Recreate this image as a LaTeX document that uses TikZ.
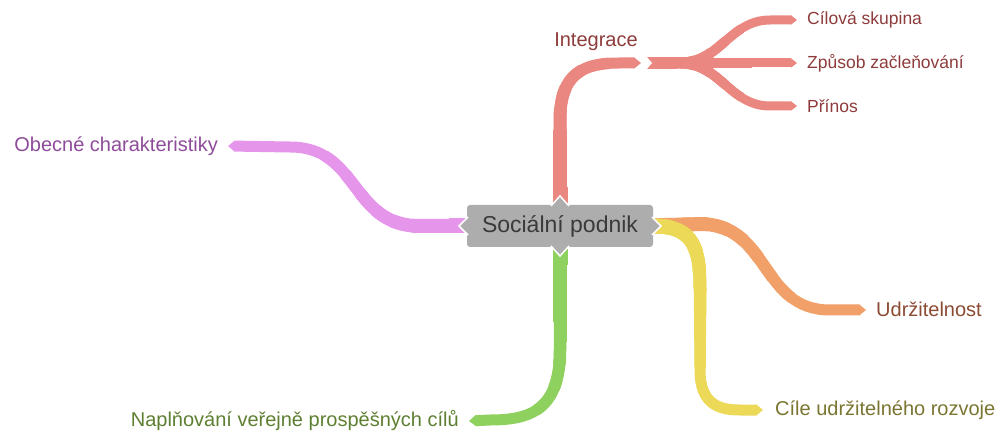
\documentclass[tikz,border=0pt]{standalone}
\usepackage{fontspec}
\setmainfont{Liberation Sans}
\usetikzlibrary{arrows.meta,calc,backgrounds}
\definecolor{rRed}{HTML}{EA8780}
\definecolor{tRed}{HTML}{8E3B3B}
\definecolor{rPur}{HTML}{E596EB}
\definecolor{tPur}{HTML}{8E4B9A}
\definecolor{rGrn}{HTML}{8FD15F}
\definecolor{tGrn}{HTML}{5E7F32}
\definecolor{rOra}{HTML}{F0A068}
\definecolor{tOra}{HTML}{8B4A32}
\definecolor{rYel}{HTML}{EBD957}
\definecolor{tYel}{HTML}{7A7530}
\definecolor{cGray}{HTML}{ADADAD}
\definecolor{cText}{HTML}{3A3A3A}
\begin{document}
\begin{tikzpicture}[x=1pt,y=-1pt,
  ribbon/.style={draw=#1, line width=11pt, line cap=butt, -{Triangle[length=7pt,width=11pt]},
    preaction={draw=#1, arrows=-, line width=15pt, dash pattern=on 18pt off 2000pt},
    preaction={draw=#1, arrows=-, line width=14.5pt, dash pattern=on 36pt off 2000pt},
    preaction={draw=#1, arrows=-, line width=14pt, dash pattern=on 55pt off 2000pt},
    preaction={draw=#1, arrows=-, line width=13.5pt, dash pattern=on 75pt off 2000pt},
    preaction={draw=#1, arrows=-, line width=13pt, dash pattern=on 95pt off 2000pt},
    preaction={draw=#1, arrows=-, line width=12.5pt, dash pattern=on 118pt off 2000pt},
    preaction={draw=#1, arrows=-, line width=12pt, dash pattern=on 142pt off 2000pt},
    preaction={draw=#1, arrows=-, line width=11.5pt, dash pattern=on 170pt off 2000pt}},
  subribbon/.style={draw=#1, line width=9pt, line cap=butt, -{Triangle[length=6pt,width=9pt]},
    preaction={draw=#1, arrows=-, line width=12pt, dash pattern=on 15pt off 2000pt},
    preaction={draw=#1, arrows=-, line width=11.5pt, dash pattern=on 30pt off 2000pt},
    preaction={draw=#1, arrows=-, line width=11pt, dash pattern=on 48pt off 2000pt},
    preaction={draw=#1, arrows=-, line width=10.5pt, dash pattern=on 66pt off 2000pt},
    preaction={draw=#1, arrows=-, line width=10pt, dash pattern=on 85pt off 2000pt},
    preaction={draw=#1, arrows=-, line width=9.5pt, dash pattern=on 105pt off 2000pt}},
  lvlone/.style={font=\fontsize{20}{24}\selectfont, inner sep=0pt},
  lvltwo/.style={font=\fontsize{17.5}{21}\selectfont, inner sep=0pt, text=tRed, anchor=west}]
\useasboundingbox (0,0) rectangle (1003,435);

% central node
\node[fill=cGray, rounded corners=3pt, minimum width=186pt, minimum height=42pt,
      inner sep=0pt, text=cText, font=\fontsize{23}{27}\selectfont] (c) at (560,226) {Sociální podnik};

% labels
\node[lvlone, text=tRed] (int) at (596,42) {Integrace};
\node[lvltwo] (cs) at (807,20) {Cílová skupina};
\node[lvltwo] (zp) at (807,63) {Způsob začleňování};
\node[lvltwo] (pr) at (807,106) {Přínos};
\node[lvlone, text=tPur, anchor=east] (ob) at (218,146) {Obecné charakteristiky};
\node[lvlone, text=tGrn, anchor=east] (na) at (459,421) {Naplňování veřejně prospěšných cílů};
\node[lvlone, text=tOra, anchor=west] (ud) at (876,309) {Udržitelnost};
\node[lvlone, text=tYel, anchor=west] (ci) at (775,410) {Cíle udržitelného rozvoje};

% tip coordinates
\coordinate (ti) at (641,63);
\coordinate (tcs) at ($(cs.west)+(-10,0)$);
\coordinate (tzp) at ($(zp.west)+(-10,0)$);
\coordinate (tpr) at ($(pr.west)+(-10,0)$);
\coordinate (tob) at ($(ob.east)+(10,0)$);
\coordinate (tna) at ($(na.east)+(10,0)$);
\coordinate (tud) at ($(ud.west)+(-10,1)$);
\coordinate (tci) at ($(ci.west)+(-12,0)$);
\coordinate (js) at (647,63);

\begin{scope}[on background layer]
\draw[ribbon=rPur] (c.west) -- (420,226) .. controls (350,226) and (360,147) .. (290,147) -- (tob);
\draw[ribbon=rRed] (c.north) -- (560,120) .. controls (560,72) and (585,63) .. (620,63) -- (ti);
\draw[subribbon=rRed] (js) -- (680,63) .. controls (720,63) and (730,20) .. (770,20) -- (tcs);
\draw[subribbon=rRed] (js) -- (tzp);
\draw[subribbon=rRed] (js) -- (680,63) .. controls (720,63) and (730,106) .. (770,106) -- (tpr);
\fill[white] (646,56) -- (652,63) -- (646,70) -- cycle;
\draw[ribbon=rGrn] (c.south) -- (560,350) .. controls (560,410) and (530,420) .. (490,420) -- (tna);
\draw[ribbon=rOra] (c.east) -- (700,224) .. controls (770,224) and (760,310) .. (830,310) -- (tud);
\draw[ribbon=rYel] (c.east) .. controls (695,226) and (700,250) .. (700,290) -- (700,370) .. controls (700,405) and (720,410) .. (740,410) -- (tci);
\end{scope}

% notches
\fill[cGray] (551,206) -- (560,196) -- (569,206) -- cycle;
\draw[white, line width=1.5pt] (551,206) -- (560,196) -- (569,206);
\fill[cGray] (551,246) -- (560,256) -- (569,246) -- cycle;
\draw[white, line width=1.5pt] (551,246) -- (560,256) -- (569,246);
\fill[cGray] (468,217) -- (459,226) -- (468,235) -- cycle;
\draw[white, line width=1.5pt] (468,217) -- (459,226) -- (468,235);
\fill[cGray] (652,217) -- (661,226) -- (652,235) -- cycle;
\draw[white, line width=1.5pt] (652,217) -- (661,226) -- (652,235);
\end{tikzpicture}
\end{document}
